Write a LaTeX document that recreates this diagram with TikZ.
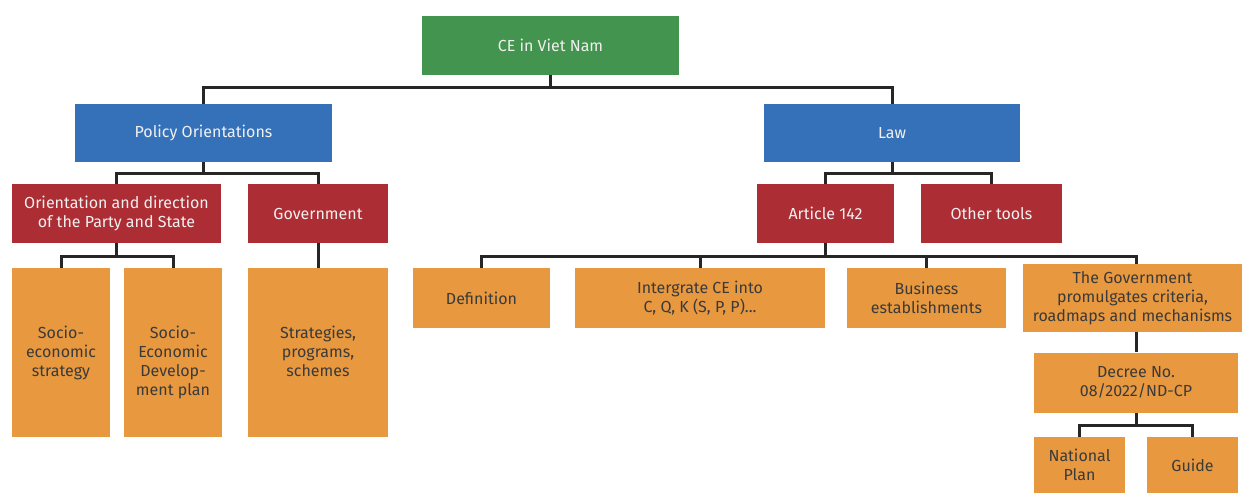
\documentclass[tikz,border=0pt]{standalone}
\usepackage{fontspec}
\setmainfont{Fira Sans}
\usepackage{tikz}
\usetikzlibrary{positioning}
\definecolor{cegreen}{HTML}{43944E}
\definecolor{ceblue}{HTML}{3571B8}
\definecolor{cered}{HTML}{AC2E34}
\definecolor{ceorange}{HTML}{E8983E}
\definecolor{celine}{HTML}{262626}
\definecolor{cetext}{HTML}{3A3A3A}

\begin{document}
\begin{tikzpicture}[x=0.5pt,y=-0.5pt,
        every node/.style={font=\fontsize{8}{9.5}\selectfont, align=center, inner sep=0pt},
        box/.style={rectangle, minimum width=#1*0.5pt},
        topbox/.style={fill=cegreen, text=white!94!black, minimum height=29.5pt},
        midbox/.style={fill=ceblue, text=white!94!black, minimum height=29pt},
        redbox/.style={fill=cered, text=white!94!black, minimum height=29.5pt},
        leaf/.style={fill=ceorange, text=cetext, minimum height=30pt},
        tall/.style={fill=ceorange, minimum height=84.5pt},
        conn/.style={draw=celine, line width=1.5pt}]
    \useasboundingbox (0,0) rectangle (1245,494);

    % top
    \node[box=257, topbox] (root) at (550.5,45.5) {CE in Viet Nam};

    % second level
    \node[box=257, midbox] (pol) at (203.5,133) {Policy Orientations};
    \node[box=256, midbox] (law) at (892,133) {Law};

    % third level
    \node[box=209, redbox] (orient) at (116.5,213.5) {Orientation and direction\\of the Party and State};
    \node[box=140, redbox] (gov) at (318,213.5) {Government};
    \node[box=137, redbox] (art) at (825.5,213.5) {Article 142};
    \node[box=141, redbox] (tools) at (991.5,213.5) {Other tools};

    % policy leaves
    \node[box=98, tall, label={[anchor=north, text=cetext, yshift=-29pt]north:Socio-\\economic\\strategy}] (ses) at (61,352.5) {};
    \node[box=98, tall, label={[anchor=north, text=cetext, yshift=-29pt]north:Socio-\\Economic\\Develop-\\ment plan}] (sedp) at (173,352.5) {};
    \node[box=140, tall, label={[anchor=north, text=cetext, yshift=-29pt]north:Strategies,\\programs,\\schemes}] (strat) at (318,352.5) {};

    % law leaves
    \node[box=137, leaf] (def) at (481.5,298) {Definition};
    \node[box=250, leaf] (integ) at (700,298) {Intergrate CE into\\C, Q, K (S, P, P)...};
    \node[box=159, leaf] (biz) at (926.5,298) {Business\\establishments};
    \node[box=219, leaf, minimum height=34pt] (crit) at (1132.5,298) {The Government\\promulgates criteria,\\roadmaps and mechanisms};
    \node[box=204, leaf] (decree) at (1136,382.5) {Decree No.\\08/2022/ND-CP};
    \node[box=91, leaf, minimum height=28pt] (natplan) at (1079.5,465) {National\\Plan};
    \node[box=91, leaf, minimum height=28pt] (guide) at (1192.5,465) {Guide};

    % connectors
    \coordinate (b0) at (root.south |- 0,87);
    \draw[conn] (root.south) -- (b0) -| (pol.north);
    \draw[conn] (b0) -| (law.north);

    \coordinate (b1) at (pol.south |- 0,173);
    \draw[conn] (pol.south) -- (b1) -| (orient.north);
    \draw[conn] (b1) -| (gov.north);

    \coordinate (b2) at (orient.south |- 0,256);
    \draw[conn] (orient.south) -- (b2) -| (ses.north);
    \draw[conn] (b2) -| (sedp.north);
    \draw[conn] (gov.south) -- (strat.north);

    \coordinate (b3) at (law.south |- 0,173);
    \draw[conn] (law.south) -- (b3) -| (art.north);
    \draw[conn] (b3) -| (tools.north);

    \coordinate (b4) at (art.south |- 0,256);
    \draw[conn] (art.south) -- (b4) -| (def.north);
    \draw[conn] (b4) -| (integ.north);
    \draw[conn] (b4) -| (biz.north);
    \draw[conn] (b4) -| (crit.north -| decree.north);
    \draw[conn] (crit.south -| decree.north) -- (decree.north);

    \coordinate (b5) at (decree.south |- 0,425);
    \draw[conn] (decree.south) -- (b5) -| (natplan.north);
    \draw[conn] (b5) -| (guide.north);
\end{tikzpicture}
\end{document}
